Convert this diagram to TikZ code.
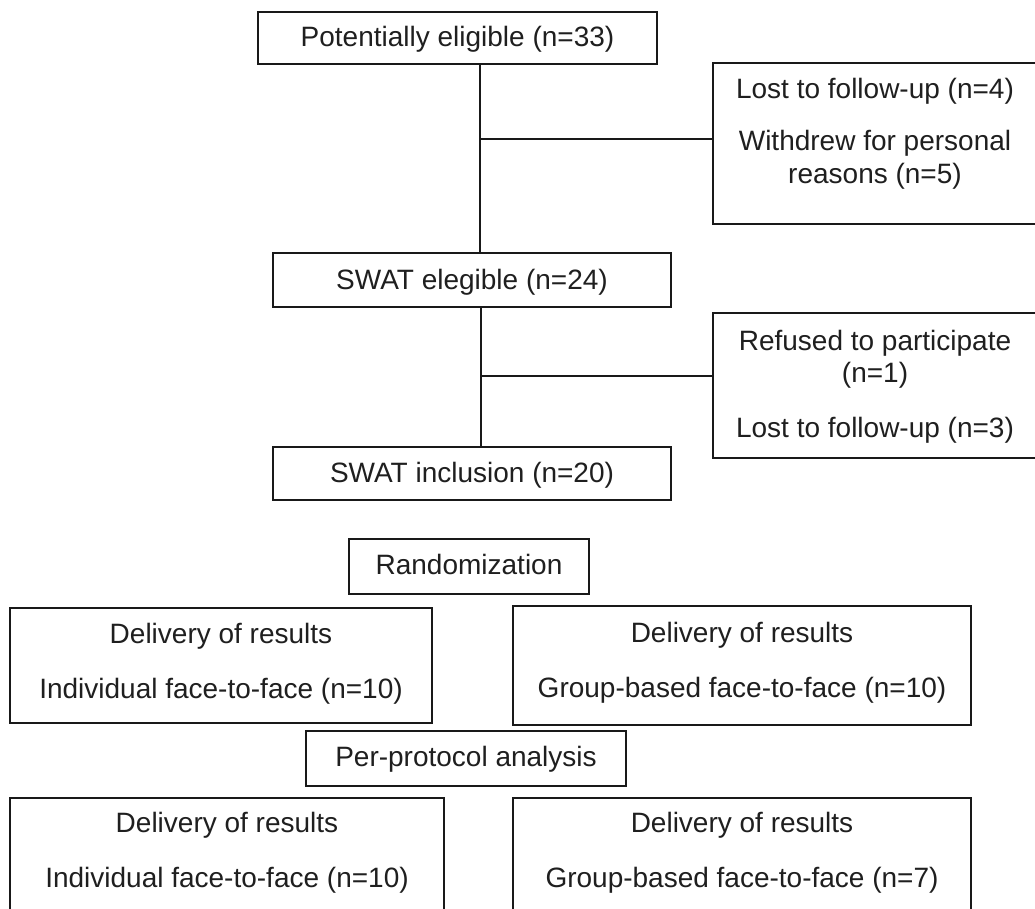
\documentclass[tikz,border=0pt]{standalone}
\usepackage{fontspec}
\setmainfont{Liberation Sans}
\begin{document}
\begin{tikzpicture}[x=1pt,y=-1pt,
  box/.style={draw=black!90, line width=1.5pt, inner sep=0pt},
  txt/.style={anchor=base, inner sep=0pt, font=\fontsize{28}{33}\selectfont, text=black!88},
  conn/.style={draw=black!90, line width=1.5pt}]
\useasboundingbox (0,0) rectangle (1035,908);
\fill[white] (0,0) rectangle (1035,908);
\clip (0,0) rectangle (1035,908);
% boxes
\node[box, minimum width=399pt, minimum height=52pt] (b1) at (457.5,38) {};
\node[box, minimum width=398pt, minimum height=54pt] (b2) at (472,280) {};
\node[box, minimum width=398pt, minimum height=53pt] (b3) at (472,473.5) {};
\node[box, minimum width=334pt, minimum height=161pt] (r1) at (880,143.5) {};
\node[box, minimum width=334pt, minimum height=145pt] (r2) at (880,385.5) {};
\node[box, minimum width=240pt, minimum height=55pt] (rand) at (469,566.5) {};
\node[box, minimum width=422pt, minimum height=115pt] (l1) at (221,665.5) {};
\node[box, minimum width=458pt, minimum height=119pt] (g1) at (742,665.5) {};
\node[box, minimum width=320pt, minimum height=55pt] (pp) at (466,758.5) {};
\node[box, minimum width=434pt, minimum height=150pt] (l2) at (227,873) {};
\node[box, minimum width=458pt, minimum height=150pt] (g2) at (742,873) {};
% texts
\node[txt] (b1t) at (457.5,46) {Potentially eligible (n=33)};
\node[txt] (r1a) at (875,98) {Lost to follow-up (n=4)};
\node[txt] (r1b) at (875,150) {Withdrew for personal};
\node[txt] (r1c) at (875,183) {reasons (n=5)};
\node[txt] (b2t) at (472,289) {SWAT elegible (n=24)};
\node[txt] (r2a) at (875,350) {Refused to participate};
\node[txt] (r2b) at (875,382) {(n=1)};
\node[txt] (r2c) at (875,437) {Lost to follow-up (n=3)};
\node[txt] (b3t) at (472,482) {SWAT inclusion (n=20)};
\node[txt] (randt) at (469,574) {Randomization};
\node[txt] (l1a) at (221,643) {Delivery of results};
\node[txt] (l1b) at (221,698) {Individual face-to-face (n=10)};
\node[txt] (g1a) at (742,642) {Delivery of results};
\node[txt] (g1b) at (742,697) {Group-based face-to-face (n=10)};
\node[txt] (ppt) at (466,766) {Per-protocol analysis};
\node[txt] (l2a) at (227,832) {Delivery of results};
\node[txt] (l2b) at (227,887) {Individual face-to-face (n=10)};
\node[txt] (g2a) at (742,832) {Delivery of results};
\node[txt] (g2b) at (742,887) {Group-based face-to-face (n=7)};
% connectors
\coordinate (j1) at (480,139);
\coordinate (j2) at (481,376);
\draw[conn] (b1.south -| j1) -- (b2.north -| j1);
\draw[conn] (j1) -- (j1 -| r1.west);
\draw[conn] (b2.south -| j2) -- (b3.north -| j2);
\draw[conn] (j2) -- (j2 -| r2.west);
\end{tikzpicture}
\end{document}
